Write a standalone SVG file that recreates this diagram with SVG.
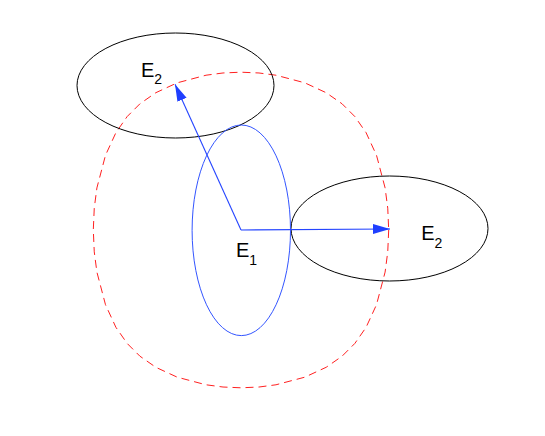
<svg xmlns="http://www.w3.org/2000/svg" width="545" height="436" viewBox="0 0 545 436">
<style>
.bg{fill:#ffffff}
.e2{fill:none;stroke:#000000;stroke-width:1}
.e1{fill:none;stroke:#3355ff;stroke-width:1}
.sum{fill:none;stroke:#ff2020;stroke-width:1;stroke-dasharray:8,5}
.arr{fill:none;stroke:#2545ff;stroke-width:1.1}
.lbl{font-family:"Liberation Sans",Arial,sans-serif;font-size:20px;fill:#000000}
.sub{font-size:14px}
</style>
<defs>
<marker id="ah" markerUnits="userSpaceOnUse" markerWidth="18" markerHeight="11" refX="17" refY="5" orient="auto">
<path d="M0,0 L17,5 L0,10 z" fill="#1f3fff"/>
</marker>
</defs>
<rect class="bg" x="0" y="0" width="545" height="436"/>
<g id="minkowski-sum">
<polygon class="sum" points="388.7,230 387.75,251.83 385.1,272.09 376.51,304.71 366.1,327.3 354.85,343.43 342.1,356.18 326.19,367.28 304.8,377.17 275.98,384.79 258.97,387.02 241,387.8 223.03,387.02 206.02,384.79 177.2,377.17 155.81,367.28 139.9,356.18 127.15,343.43 115.9,327.3 105.49,304.71 96.9,272.09 94.25,251.83 93.3,230 94.25,208.17 96.9,187.91 105.49,155.29 115.9,132.7 127.15,116.57 139.9,103.82 155.81,92.72 177.2,82.83 206.02,75.21 223.03,72.98 241,72.2 258.97,72.98 275.98,75.21 304.8,82.83 326.19,92.72 342.1,103.82 354.85,116.57 366.1,132.7 376.51,155.29 385.1,187.91 387.75,208.17"/>
</g>
<g id="E2-top">
<ellipse class="e2" cx="175.5" cy="85.5" rx="98.5" ry="52.5"/>
<text class="lbl" x="141" y="76.7">E<tspan class="sub" dy="7.6">2</tspan></text>
</g>
<g id="E2-right">
<ellipse class="e2" cx="389.5" cy="228.5" rx="98.5" ry="52.5"/>
<text class="lbl" x="421.2" y="239.7">E<tspan class="sub" dy="8.3">2</tspan></text>
</g>
<g id="E1">
<ellipse class="e1" cx="241.3" cy="230.3" rx="49.2" ry="105.3"/>
<text class="lbl" x="236" y="256.7">E<tspan class="sub" dy="8.3">1</tspan></text>
</g>
<g id="connectors">
<line class="arr" x1="241" y1="230" x2="175" y2="84.3" marker-end="url(#ah)"/>
<line class="arr" x1="241" y1="230" x2="390" y2="229" marker-end="url(#ah)"/>
</g>
</svg>
